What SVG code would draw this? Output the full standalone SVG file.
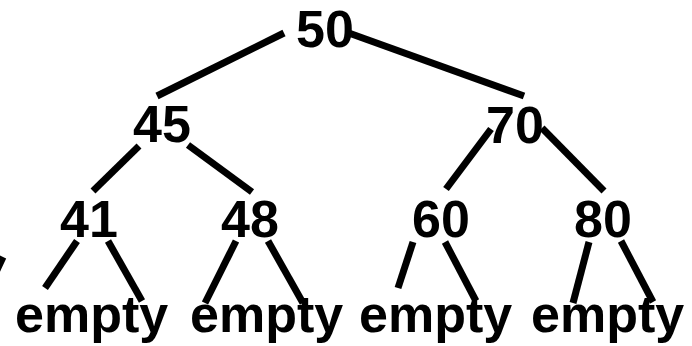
<svg xmlns="http://www.w3.org/2000/svg" width="692" height="346" viewBox="0 0 692 346">
<style>
text { font-family: "Liberation Sans", Arial, sans-serif; font-weight: bold; font-size: 52px; fill: #000; }
.edge { stroke: #000; stroke-width: 7; stroke-linecap: butt; fill: none; }
</style>
<rect width="692" height="346" fill="#fff"/>
<g id="connectors">
<line class="edge" x1="284" y1="33" x2="157" y2="96"/>
<line class="edge" x1="346" y1="32" x2="524" y2="96"/>
<line class="edge" x1="139" y1="146" x2="93" y2="191"/>
<line class="edge" x1="188" y1="145" x2="252" y2="192"/>
<line class="edge" x1="491" y1="129" x2="446" y2="189"/>
<line class="edge" x1="542" y1="128" x2="604" y2="191"/>
<line class="edge" x1="77" y1="241" x2="45" y2="288"/>
<line class="edge" x1="108" y1="241" x2="142" y2="301"/>
<line class="edge" x1="236" y1="241" x2="205" y2="303"/>
<line class="edge" x1="268" y1="241" x2="303" y2="303"/>
<line class="edge" x1="413" y1="242" x2="398" y2="288"/>
<line class="edge" x1="445" y1="242" x2="476" y2="301"/>
<line class="edge" x1="589" y1="242" x2="573" y2="303"/>
<line class="edge" x1="621" y1="241" x2="653" y2="302"/>
<line class="edge" x1="-4" y1="272" x2="3" y2="257"/>
</g>
<g id="n50"><text x="296" y="47">50</text></g>
<g id="n45"><text x="133" y="142">45</text></g>
<g id="n70"><text x="486" y="143">70</text></g>
<g id="n41"><text x="60" y="237">41</text></g>
<g id="n48"><text x="221" y="237">48</text></g>
<g id="n60"><text x="412" y="237">60</text></g>
<g id="n80"><text x="574" y="237">80</text></g>
<g id="e1"><text x="15" y="332">empty</text></g>
<g id="e2"><text x="190" y="332">empty</text></g>
<g id="e3"><text x="359" y="332">empty</text></g>
<g id="e4"><text x="531" y="332">empty</text></g>
</svg>
